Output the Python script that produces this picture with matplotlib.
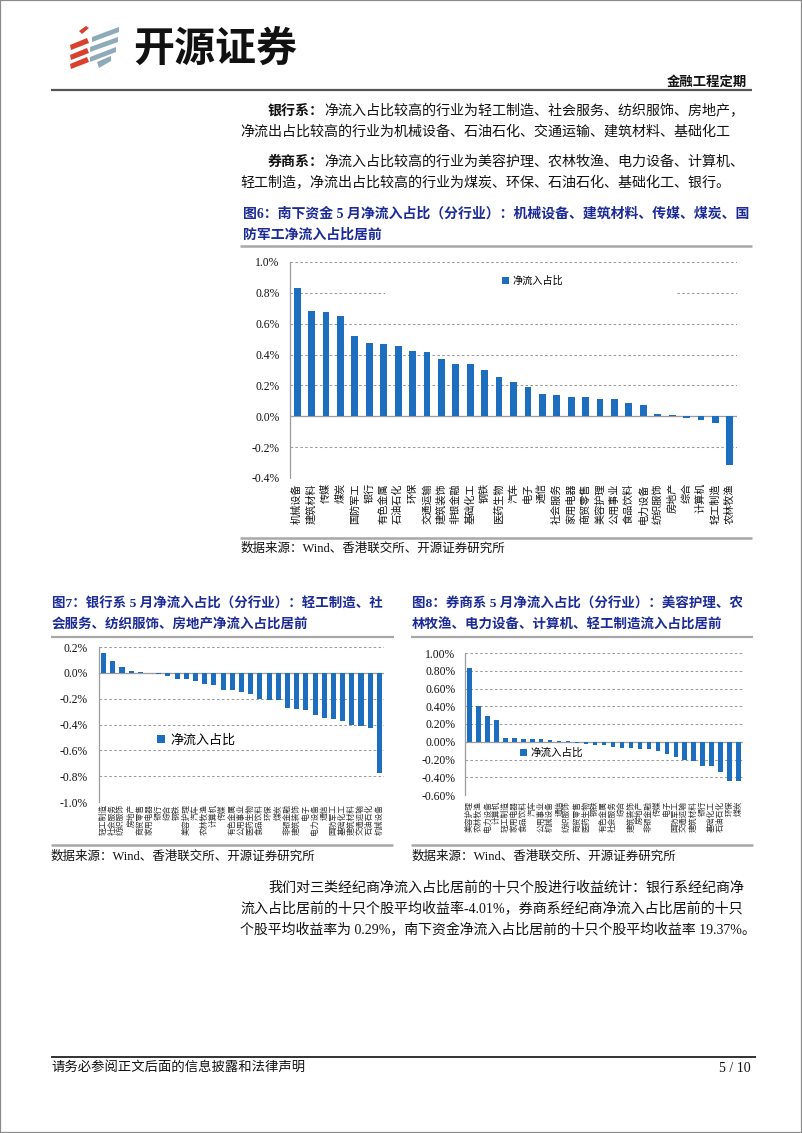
import matplotlib
matplotlib.use('Agg')
import matplotlib.pyplot as plt
from matplotlib.patches import Rectangle, Polygon, Patch
from matplotlib.lines import Line2D

W, H = 802, 1133
CJK = 'Noto Sans CJK SC'
SERIF = 'Liberation Serif'
plt.rcParams['font.family'] = [SERIF, CJK]

# ---------------- data ----------------
series_name = '净流入占比'

ind6 = ['机械设备', '建筑材料', '传媒', '煤炭', '国防军工', '银行', '有色金属', '石油石化',
        '环保', '交通运输', '建筑装饰', '非银金融', '基础化工', '钢铁', '医药生物', '汽车',
        '电子', '通信', '社会服务', '家用电器', '商贸零售', '美容护理', '公用事业', '食品饮料',
        '电力设备', '纺织服饰', '房地产', '综合', '计算机', '轻工制造', '农林牧渔']
val6 = [0.830, 0.683, 0.674, 0.650, 0.522, 0.478, 0.467, 0.454, 0.422, 0.415, 0.372,
        0.339, 0.337, 0.298, 0.254, 0.220, 0.193, 0.146, 0.137, 0.126, 0.126, 0.115,
        0.113, 0.089, 0.070, 0.015, 0.011, -0.013, -0.024, -0.043, -0.315]

ind7 = ['轻工制造', '社会服务', '纺织服饰', '房地产', '商贸零售', '家用电器', '银行', '综合',
        '钢铁', '美容护理', '汽车', '农林牧渔', '计算机', '传媒', '有色金属', '公用事业',
        '医药生物', '食品饮料', '环保', '煤炭', '非银金融', '建筑装饰', '电子', '电力设备',
        '通信', '国防军工', '基础化工', '建筑材料', '交通运输', '石油石化', '机械设备']
val7 = [0.155, 0.088, 0.047, 0.015, 0.008, -0.003, -0.008, -0.025, -0.044, -0.049, -0.065,
        -0.088, -0.092, -0.133, -0.134, -0.145, -0.165, -0.200, -0.212, -0.213, -0.276,
        -0.277, -0.286, -0.325, -0.346, -0.356, -0.375, -0.400, -0.415, -0.424, -0.772]

ind8 = ['美容护理', '农林牧渔', '电力设备', '计算机', '轻工制造', '家用电器', '食品饮料', '汽车',
        '公用事业', '机械设备', '通信', '纺织服饰', '商贸零售', '医药生物', '钢铁', '有色金属',
        '社会服务', '综合', '建筑装饰', '房地产', '非银金融', '传媒', '电子', '国防军工',
        '交通运输', '建筑材料', '银行', '基础化工', '石油石化', '环保', '煤炭']
val8 = [0.830, 0.400, 0.285, 0.245, 0.045, 0.040, 0.033, 0.030, 0.028, 0.015, 0.012,
        0.010, -0.010, -0.030, -0.033, -0.035, -0.055, -0.070, -0.075, -0.080, -0.085,
        -0.100, -0.140, -0.170, -0.205, -0.215, -0.270, -0.275, -0.340, -0.440, -0.445]

yticks6 = [-0.4, -0.2, 0.0, 0.2, 0.4, 0.6, 0.8, 1.0]
yticks7 = [-1.0, -0.8, -0.6, -0.4, -0.2, 0.0, 0.2]
yticks8 = [-0.6, -0.4, -0.2, 0.0, 0.2, 0.4, 0.6, 0.8, 1.0]

# ---------------- style ----------------
BLUE = '#1E6EBF'
NAVY = '#1B2A96'
GRID = '#9C9C9C'
RULE = '#A8A8A8'
TXT = '#111111'

fig = plt.figure(figsize=(W / 100, H / 100), dpi=100)
fig.patch.set_facecolor('white')


def fx(x):
    return x / W


def fy(y):
    return 1 - y / H


def hline(y, x0, x1, lw, color):
    fig.add_artist(Line2D([fx(x0), fx(x1)], [fy(y), fy(y)], lw=lw, color=color,
                          transform=fig.transFigure, solid_capstyle='butt'))


def poly(pts, color):
    fig.add_artist(Polygon([(fx(a), fy(b)) for a, b in pts], closed=True,
                           transform=fig.transFigure, facecolor=color, edgecolor='none'))


renderer = fig.canvas.get_renderer()


def rich_line(x, y, bold, rest, size=10.1, color=TXT):
    if bold:
        t = fig.text(fx(x), fy(y), bold, fontsize=size, weight='bold', va='center',
                     ha='left', color=color)
        bb = t.get_window_extent(renderer=renderer)
        x = bb.x1
    fig.text(fx(x), fy(y), rest, fontsize=size, va='center', ha='left', color=color)


# page border
fig.add_artist(Rectangle((0, 0), 1, 1, transform=fig.transFigure, fill=False,
                         edgecolor='#8A8A8A', lw=1.6))

# ---------------- header / logo ----------------
red = '#D9402E'
grayblue = '#8FAAB9'
# red stripes
poly([(79, 31), (86, 26), (89, 28), (82, 34)], red)
for y0 in (38, 48, 57):
    poly([(70, y0 + 7), (87, y0), (89, y0 + 5), (71, y0 + 12)], red)
# gray-blue stripes
for (xa, xb, y0) in ((92, 119, 27), (90, 118, 37), (90, 116, 47)):
    poly([(xa, y0 + 10), (xb, y0), (xb, y0 + 5), (xa, y0 + 15)], grayblue)
poly([(97, 62), (111, 56), (111, 61), (99, 68)], grayblue)

fig.text(fx(133), fy(49), '开源证券', fontsize=29.5, weight='bold', family=CJK,
         va='center', ha='left', color='#111111')
fig.text(fx(747), fy(82), '金融工程定期', fontsize=9.6, weight='bold', family=[SERIF, CJK],
         va='center', ha='right', color=TXT)
hline(89.5, 51, 752, 1.6, '#555555')

# ---------------- body text ----------------
rich_line(268, 111, '银行系：', '净流入占比较高的行业为轻工制造、社会服务、纺织服饰、房地产，')
rich_line(240, 132, '', '净流出占比较高的行业为机械设备、石油石化、交通运输、建筑材料、基础化工')
rich_line(268, 162, '券商系：', '净流入占比较高的行业为美容护理、农林牧渔、电力设备、计算机、')
rich_line(240, 183, '', '轻工制造，净流出占比较高的行业为煤炭、环保、石油石化、基础化工、银行。')

# ---------------- chart titles ----------------
fig.text(fx(243), fy(214), '图6：南下资金 5 月净流入占比（分行业）：机械设备、建筑材料、传媒、煤炭、国',
         fontsize=10, weight='bold', color=NAVY, va='center')
fig.text(fx(243), fy(235), '防军工净流入占比居前', fontsize=10, weight='bold', color=NAVY, va='center')
hline(246, 240, 752, 1.8, RULE)

fig.text(fx(52), fy(604), '图7：银行系 5 月净流入占比（分行业）：轻工制造、社',
         fontsize=9.7, weight='bold', color=NAVY, va='center')
fig.text(fx(52), fy(625), '会服务、纺织服饰、房地产净流入占比居前',
         fontsize=9.7, weight='bold', color=NAVY, va='center')
hline(637, 51, 394, 1.6, RULE)

fig.text(fx(412), fy(604), '图8：券商系 5 月净流入占比（分行业）：美容护理、农',
         fontsize=9.7, weight='bold', color=NAVY, va='center')
fig.text(fx(412), fy(625), '林牧渔、电力设备、计算机、轻工制造流入占比居前',
         fontsize=9.7, weight='bold', color=NAVY, va='center')
hline(637, 411, 753, 1.6, RULE)


# ---------------- charts ----------------
def bar_chart(rect, cats, vals, yticks, decimals, bar_w, label_fs, label_pad,
              tick_fs, tick_pad, leg_xy, leg_fs, label_color=TXT):
    l, t, r, b = rect
    ax = fig.add_axes([fx(l), fy(b), (r - l) / W, (b - t) / H])
    xs = list(range(len(cats)))
    ax.bar(xs, vals, width=bar_w, color=BLUE, zorder=3, label=series_name)
    ax.set_xlim(-0.5, len(cats) - 0.5)
    ax.set_ylim(yticks[0], yticks[-1])
    ax.set_yticks(yticks)
    ax.set_yticklabels([('{:.%df}%%' % decimals).format(v) for v in yticks],
                       fontsize=tick_fs, family=SERIF)
    ax.yaxis.grid(True, linestyle=(0, (2.5, 2.2)), color=GRID, lw=0.75)
    ax.set_axisbelow(True)
    for s in ('top', 'right', 'bottom'):
        ax.spines[s].set_visible(False)
    ax.spines['left'].set_color(GRID)
    ax.spines['left'].set_linewidth(0.9)
    ax.tick_params(axis='y', length=0, pad=tick_pad, colors=TXT)
    ax.set_xticks(xs)
    ax.set_xticklabels(cats, rotation=90, fontsize=label_fs, family=CJK)
    ax.tick_params(axis='x', length=0, pad=label_pad, colors=label_color)
    ax.axhline(0, color=GRID, lw=0.9, zorder=2)
    ax.set_facecolor('none')
    ax.legend(handles=[Patch(facecolor=BLUE, edgecolor='none', label=series_name)],
              loc='center left', bbox_to_anchor=leg_xy, frameon=False,
              handlelength=0.65, handleheight=0.65,
              handletextpad=0.35, borderpad=0, borderaxespad=0,
              prop={'family': CJK, 'size': leg_fs})
    return ax


ax6 = bar_chart((290, 262, 737, 478), ind6, val6, yticks6, 1, 0.47, 7.3, 3.6,
                8.4, 7.5, ((502 - 290) / 447, (478 - 281) / 216), 7.3)
# white legend backing that interrupts the 0.8% gridline
ax6.add_patch(Rectangle(((385 - 290) / 447, (478 - 300) / 216), (677 - 385) / 447, 30 / 216,
                        transform=ax6.transAxes, facecolor='white', edgecolor='none', zorder=1))

ax7 = bar_chart((99, 647, 384, 802), ind7, val7, yticks7, 1, 0.55, 5.6, 1.5,
                8.4, 8.0, ((157 - 99) / 285, (802 - 740) / 155), 9.4, '#333333')

ax8 = bar_chart((465, 653, 743, 795), ind8, val8, yticks8, 2, 0.5, 5.6, 4.0,
                8.4, 7.0, ((520 - 465) / 278, (795 - 753) / 142), 7.6, '#333333')

# source lines
hline(538, 240, 752, 1.8, RULE)
fig.text(fx(241), fy(549), '数据来源：Wind、香港联交所、开源证券研究所', fontsize=9,
         va='center', color=TXT)
hline(845, 51, 393, 1.8, RULE)
hline(845, 411, 753, 1.8, RULE)
fig.text(fx(51), fy(857), '数据来源：Wind、香港联交所、开源证券研究所', fontsize=9,
         va='center', color=TXT)
fig.text(fx(412), fy(857), '数据来源：Wind、香港联交所、开源证券研究所', fontsize=9,
         va='center', color=TXT)

# bottom paragraph
rich_line(268, 888, '', '我们对三类经纪商净流入占比居前的十只个股进行收益统计：银行系经纪商净')
rich_line(240, 909, '', '流入占比居前的十只个股平均收益率-4.01%，券商系经纪商净流入占比居前的十只')
rich_line(240, 930, '', '个股平均收益率为 0.29%，南下资金净流入占比居前的十只个股平均收益率 19.37%。',
          size=10.0)

# footer
hline(1057, 51, 756, 1.3, '#222222')
fig.text(fx(51), fy(1068), '请务必参阅正文后面的信息披露和法律声明', fontsize=9.6,
         va='center', color=TXT)
fig.text(fx(751), fy(1068), '5 / 10', fontsize=10, va='center', ha='right', color=TXT)

fig.savefig('out.png', dpi=100, facecolor='white')
